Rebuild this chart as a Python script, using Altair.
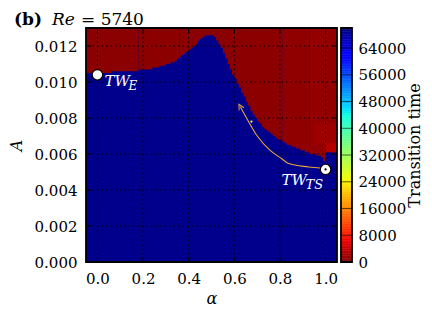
import altair as alt
import numpy as np
import pandas as pd

# ---------------- data ----------------
alpha_start = -0.05
alpha_end = 1.05
alpha_step = 0.01
A_top = 0.013

# upper edge of the blue (no transition) region, one value per alpha column
boundary_A = [
    0.0105, 0.0105, 0.0105, 0.0105, 0.0105, 0.0105, 0.0105, 0.0105, 0.0105, 0.0105,
    0.0105, 0.0106, 0.0106, 0.0106, 0.0106, 0.0106, 0.0106, 0.0106, 0.0106, 0.0106,
    0.0106, 0.0106, 0.0106, 0.0107, 0.0107, 0.0107, 0.0107, 0.0107, 0.0107, 0.0108,
    0.0108, 0.0108, 0.0109, 0.0109, 0.0109, 0.0110, 0.0110, 0.0111, 0.0111, 0.0112,
    0.0113, 0.0114, 0.0115, 0.0116, 0.0117, 0.0118, 0.0119, 0.0120, 0.0121, 0.0123,
    0.0124, 0.0125, 0.0126, 0.0126, 0.0126, 0.0126, 0.0125, 0.0123, 0.0121, 0.0119,
    0.0116, 0.0113, 0.0110, 0.0107, 0.0104, 0.0102, 0.0099, 0.0097, 0.0094, 0.0092,
    0.0089, 0.0087, 0.0084, 0.0082, 0.0080, 0.0078, 0.0077, 0.0075, 0.0074, 0.0073,
    0.0072, 0.0071, 0.0070, 0.0069, 0.0068, 0.0068, 0.0067, 0.0066, 0.0065, 0.0065,
    0.0064, 0.0064, 0.0063, 0.0063, 0.0062, 0.0062, 0.0061, 0.0061, 0.0060, 0.0060,
    0.0060, 0.0059, 0.0059, 0.0058, 0.0056, 0.0061, 0.0061, 0.0061, 0.0061, 0.0061,
]
# transition time of the red (quick transition) cells, one value per column
red_time = [
    650, 650, 650, 650, 650, 650, 650, 650, 650, 650,
    650, 650, 650, 650, 650, 650, 650, 650, 650, 650,
    650, 650, 650, 800, 800, 800, 800, 800, 800, 800,
    800, 800, 800, 800, 800, 800, 800, 800, 800, 800,
    800, 650, 650, 650, 650, 650, 650, 650, 650, 650,
    650, 650, 650, 650, 650, 650, 650, 650, 650, 650,
    650, 650, 650, 650, 650, 650, 650, 650, 650, 650,
    650, 800, 800, 800, 800, 800, 800, 800, 800, 800,
    800, 800, 800, 800, 800, 800, 950, 950, 950, 950,
    950, 950, 950, 950, 950, 950, 950, 950, 1200, 1200,
    1200, 1200, 1200, 1200, 1200, 1100, 1100, 1100, 1100, 1100,
]
blue_time = 69300

# lighter red blocks near the right edge
patch_alpha0 = [0.95, 1.00]
patch_alpha1 = [1.05, 1.05]
patch_A0 = [0.0066, 0.0061]
patch_A1 = [0.0077, 0.0066]
patch_time = [1800, 3200]

# orange path from TW_TS
curve_alpha = [0.626, 0.648, 0.699, 0.757, 0.808, 0.838, 0.925, 0.991, 0.999]
curve_A = [0.00863, 0.00813, 0.00703, 0.00620, 0.00574, 0.00547, 0.00528, 0.00519, 0.00514]
dot_alpha = [0.675]
dot_A = [0.0078]

tw_alpha = [0.0, 1.0]
tw_A = [0.0104, 0.00514]

x_ticks = [0.0, 0.2, 0.4, 0.6, 0.8, 1.0]
y_ticks = [0.0, 0.002, 0.004, 0.006, 0.008, 0.010, 0.012]
cb_ticks = [0, 8000, 16000, 24000, 32000, 40000, 48000, 56000, 64000]
cb_max = 70000

# reversed jet colormap anchors
jet_domain = [0, 6300, 7700, 23800, 24500, 25200, 43750, 45500, 46200, 61250, 62300, 70000]
jet_colors = ["#800000", "#e80000", "#ff1300", "#ffec00", "#f7f500", "#efff08",
              "#15ffe2", "#00e6f7", "#00dbff", "#0000ff", "#0000ff", "#000080"]

# ---------------- tables ----------------
# red region as step areas, one path per run of equal transition time
area_rows = []
run = 0
n = len(boundary_A)
for i in range(n):
    a0 = round(alpha_start + i * alpha_step, 4)
    if i > 0 and red_time[i] != red_time[i - 1]:
        area_rows.append(dict(a=a0, b=boundary_A[i - 1], t=red_time[i - 1], run=run))
        run += 1
    area_rows.append(dict(a=a0, b=boundary_A[i], t=red_time[i], run=run))
area_rows.append(dict(a=alpha_end, b=boundary_A[-1], t=red_time[-1], run=run))
red_df = pd.DataFrame(area_rows)
red_df["top"] = A_top

bg_df = pd.DataFrame({"a0": [alpha_start], "a1": [alpha_end], "y0": [0.0], "y1": [A_top], "t": [blue_time]})
patch_df = pd.DataFrame({"a0": patch_alpha0, "a1": patch_alpha1, "y0": patch_A0, "y1": patch_A1,
                         "t": patch_time})

W, H = 251, 234
FONT = "DejaVu Serif"
ORANGE = "#e8a33a"

color_scale = alt.Scale(domain=jet_domain, range=jet_colors, interpolate="rgb")
xs = alt.Scale(domain=[alpha_start, alpha_end], nice=False, zero=False)
ys = alt.Scale(domain=[0, A_top], nice=False, zero=False)
x_axis = alt.Axis(values=x_ticks, format=".1f", title="α", grid=False, ticks=False,
                  domain=False, labelPadding=9, titlePadding=4, labelFlush=False,
                  titleFontStyle="italic")
y_axis = alt.Axis(values=y_ticks, format=".3f", title="A", grid=False, ticks=False,
                  domain=False, labelPadding=9, titlePadding=10, titleFontStyle="italic")


def X(f):
    return alt.X(f, type="quantitative", scale=xs, axis=x_axis)


def Y(f):
    return alt.Y(f, type="quantitative", scale=ys, axis=y_axis)


def C(f):
    return alt.Color(f, type="quantitative", scale=color_scale, legend=None)


bg = alt.Chart(bg_df).mark_rect().encode(x=X("a0"), x2="a1", y=Y("y0"), y2="y1", color=C("t"))
red = alt.Chart(red_df).mark_area(interpolate="step-after", opacity=1).encode(
    x=X("a"), y=Y("b"), y2="top", color=C("t"), detail="run:N")
patches = alt.Chart(patch_df).mark_rect().encode(x=X("a0"), x2="a1", y=Y("y0"), y2="y1", color=C("t"))

xt = pd.DataFrame({"x": x_ticks})
yt = pd.DataFrame({"y": y_ticks})
grid_x = alt.Chart(xt).mark_rule(color="black", strokeDash=[1.5, 3], strokeWidth=1).encode(x=X("x"))
grid_y = alt.Chart(yt).mark_rule(color="black", strokeDash=[1.5, 3], strokeWidth=1).encode(y=Y("y"))
tick_top = alt.Chart(xt).mark_rule(color="black").encode(x=X("x"), y=alt.value(0), y2=alt.value(5))
tick_bot = alt.Chart(xt).mark_rule(color="black").encode(x=X("x"), y=alt.value(H), y2=alt.value(H - 5))
tick_left = alt.Chart(yt).mark_rule(color="black").encode(y=Y("y"), x=alt.value(0), x2=alt.value(5))
tick_right = alt.Chart(yt).mark_rule(color="black").encode(y=Y("y"), x=alt.value(W), x2=alt.value(W - 5))

frame = alt.Chart(pd.DataFrame({"a0": [alpha_start], "a1": [alpha_end], "y0": [0.0], "y1": [A_top]})).mark_rect(
    filled=False, color="black", strokeWidth=1.8).encode(x=X("a0"), x2="a1", y=Y("y0"), y2="y1")

curve_df = pd.DataFrame({"a": curve_alpha, "A": curve_A})
curve = alt.Chart(curve_df).mark_line(color=ORANGE, strokeWidth=1.1, interpolate="monotone").encode(
    x=X("a"), y=Y("A"))
head = alt.Chart(curve_df.iloc[[0]]).mark_point(
    shape="M -1 1 L 0 -1 L 1 1", filled=False, color=ORANGE, strokeWidth=1, size=30, angle=331,
    opacity=1).encode(x=X("a"), y=Y("A"))
dot = alt.Chart(pd.DataFrame({"a": dot_alpha, "A": dot_A})).mark_circle(
    color="#ffff50", size=5, opacity=1).encode(x=X("a"), y=Y("A"))

tw_df = pd.DataFrame({"a": tw_alpha, "A": tw_A})
markers = alt.Chart(tw_df).mark_point(
    shape="circle", filled=True, fill="white", stroke="black", strokeWidth=1.2, size=110, opacity=1
).encode(x=X("a"), y=Y("A"))
center = alt.Chart(tw_df.iloc[[1]]).mark_circle(color="black", size=5, opacity=1).encode(x=X("a"), y=Y("A"))


def label(i, txt, size, dx, dy):
    d = pd.DataFrame({"a": [tw_alpha[i]], "A": [tw_A[i]], "t": [txt]})
    return alt.Chart(d).mark_text(font=FONT, fontStyle="italic", fontSize=size, color="white",
                                  align="left", baseline="alphabetic", dx=dx, dy=dy).encode(
        x=X("a"), y=Y("A"), text="t:N")


labels = [label(0, "TW", 15, 7, 11), label(0, "E", 12, 31, 15),
          label(1, "TW", 15, -44, 15.5), label(1, "TS", 13, -20, 19.5)]


def title_piece(txt, xpos, weight, style):
    return alt.Chart(pd.DataFrame({"t": [txt]})).mark_text(
        font=FONT, fontSize=17, fontWeight=weight, fontStyle=style, color="black",
        align="left", baseline="alphabetic").encode(x=alt.value(xpos), y=alt.value(-3), text="t:N")


titles = [title_piece("(b)", -72, "bold", "normal"), title_piece("Re", -34, "normal", "italic"),
          title_piece("= 5740", -5, "normal", "normal")]

main = alt.layer(bg, red, patches, grid_x, grid_y, tick_top, tick_bot, tick_left, tick_right,
                 curve, head, dot, markers, center, *labels, frame, *titles).properties(width=W, height=H)

# ---------------- colour bar ----------------
cb_df = pd.DataFrame({"v0": np.arange(0, cb_max, 500)})
cb_df["v1"] = cb_df["v0"] + 500
cb_df["vm"] = cb_df["v0"] + 250
cbs = alt.Scale(domain=[0, cb_max], nice=False, zero=False)
cb_axis = alt.Axis(orient="right", values=cb_ticks, format="d", title="Transition time",
                   titleAngle=270, titleBaseline="top", ticks=False, domain=False, labelPadding=6,
                   titlePadding=1, titleFontStyle="normal", titleFontSize=16)
cb_rect = alt.Chart(cb_df).mark_rect(strokeWidth=0.5).encode(
    y=alt.Y("v0:Q", scale=cbs, axis=cb_axis), y2="v1", x=alt.value(0), x2=alt.value(11),
    color=C("vm"), stroke=alt.Stroke("vm:Q", scale=color_scale, legend=None))
cb_lines = alt.Chart(pd.DataFrame({"v0": cb_ticks[1:]})).mark_rule(color="black", opacity=0.6).encode(
    y=alt.Y("v0:Q", scale=cbs, axis=cb_axis), x=alt.value(0), x2=alt.value(11))
cb_frame = alt.Chart(pd.DataFrame({"v0": [0], "v1": [cb_max]})).mark_rect(
    filled=False, color="black", strokeWidth=1.8).encode(
    y=alt.Y("v0:Q", scale=cbs, axis=cb_axis), y2="v1", x=alt.value(0), x2=alt.value(11))
colorbar = alt.layer(cb_rect, cb_lines, cb_frame).properties(width=11, height=H)

chart = alt.hconcat(main, colorbar, spacing=4, bounds="flush").properties(
    padding={"left": 0, "top": 3, "right": 0, "bottom": 0}
).configure(font=FONT).configure_view(stroke=None).configure_axis(
    labelFont=FONT, labelFontSize=15, labelColor="black",
    titleFont=FONT, titleFontSize=16, titleFontWeight="normal", titleColor="black"
)

chart.save("out.html", embed_options={"renderer": "svg", "actions": False})
